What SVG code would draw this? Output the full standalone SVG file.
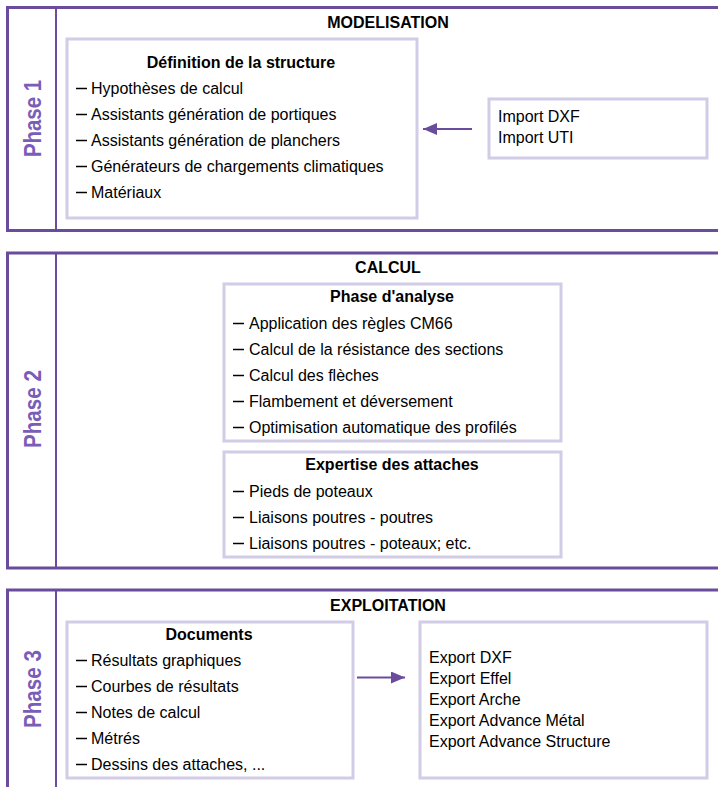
<svg xmlns="http://www.w3.org/2000/svg" width="718" height="787" viewBox="0 0 718 787">
<style>
.frame{fill:none;stroke:#6a4c9c;stroke-width:3}
.div{fill:none;stroke:#6a4c9c;stroke-width:2}
.box{fill:#fff;stroke:#d2cce6;stroke-width:3}
.ph{font-family:"Liberation Sans",Arial,sans-serif;font-size:24px;font-weight:bold;fill:#7a5cb9;text-anchor:middle}
.hd{font-family:"Liberation Sans",Arial,sans-serif;font-size:16px;font-weight:bold;fill:#000;text-anchor:middle}
.t{font-family:"Liberation Sans",Arial,sans-serif;font-size:16px;fill:#000}
.dash{stroke:#000;stroke-width:1.5}
.conn{stroke:#6a4c9c;stroke-width:2;fill:none}
</style>
<defs>
<marker id="ah" markerWidth="14" markerHeight="12" refX="14" refY="6" orient="auto" markerUnits="userSpaceOnUse">
<path d="M0,0 L14,6 L0,12 Z" fill="#6a4c9c"/>
</marker>
</defs>
<rect width="718" height="787" fill="#fff"/>

<g id="phase1">
<path class="frame" d="M720,7.5 H7.5 V230.5 H720"/>
<line class="div" x1="56" y1="7.5" x2="56" y2="230.5"/>
<text class="ph" transform="translate(41,118.5) rotate(-90)" textLength="77" lengthAdjust="spacingAndGlyphs">Phase 1</text>
<text class="hd" x="388" y="28">MODELISATION</text>
</g>
<g id="def-structure">
<rect class="box" x="67" y="39" width="350" height="179"/>
<text class="hd" x="241" y="68">Définition de la structure</text>
<line class="dash" x1="76" y1="88.5" x2="87" y2="88.5"/><text class="t" x="91" y="94">Hypothèses de calcul</text>
<line class="dash" x1="76" y1="114.5" x2="87" y2="114.5"/><text class="t" x="91" y="120">Assistants génération de portiques</text>
<line class="dash" x1="76" y1="140.5" x2="87" y2="140.5"/><text class="t" x="91" y="146">Assistants génération de planchers</text>
<line class="dash" x1="76" y1="166.5" x2="87" y2="166.5"/><text class="t" x="91" y="172">Générateurs de chargements climatiques</text>
<line class="dash" x1="76" y1="192.5" x2="87" y2="192.5"/><text class="t" x="91" y="198">Matériaux</text>
</g>
<g id="import">
<rect class="box" x="489" y="99" width="218" height="59"/>
<text class="t" x="498" y="122">Import DXF</text>
<text class="t" x="498" y="143">Import UTI</text>
</g>

<g id="phase2">
<path class="frame" d="M720,253 H7.5 V568 H720"/>
<line class="div" x1="56" y1="253" x2="56" y2="568"/>
<text class="ph" transform="translate(41,409) rotate(-90)" textLength="78" lengthAdjust="spacingAndGlyphs">Phase 2</text>
<text class="hd" x="388" y="273">CALCUL</text>
</g>
<g id="analyse">
<rect class="box" x="224" y="284" width="337" height="157"/>
<text class="hd" x="392" y="302">Phase d'analyse</text>
<line class="dash" x1="233" y1="323.5" x2="244" y2="323.5"/><text class="t" x="249" y="329">Application des règles CM66</text>
<line class="dash" x1="233" y1="349.5" x2="244" y2="349.5"/><text class="t" x="249" y="355">Calcul de la résistance des sections</text>
<line class="dash" x1="233" y1="375.5" x2="244" y2="375.5"/><text class="t" x="249" y="381">Calcul des flèches</text>
<line class="dash" x1="233" y1="401.5" x2="244" y2="401.5"/><text class="t" x="249" y="407">Flambement et déversement</text>
<line class="dash" x1="233" y1="427.5" x2="244" y2="427.5"/><text class="t" x="249" y="433">Optimisation automatique des profilés</text>
</g>
<g id="attaches">
<rect class="box" x="224" y="452" width="337" height="105"/>
<text class="hd" x="392" y="470">Expertise des attaches</text>
<line class="dash" x1="233" y1="491.5" x2="244" y2="491.5"/><text class="t" x="249" y="497">Pieds de poteaux</text>
<line class="dash" x1="233" y1="517.5" x2="244" y2="517.5"/><text class="t" x="249" y="523">Liaisons poutres - poutres</text>
<line class="dash" x1="233" y1="543.5" x2="244" y2="543.5"/><text class="t" x="249" y="549">Liaisons poutres - poteaux; etc.</text>
</g>

<g id="phase3">
<path class="frame" d="M720,590 H7.5 V790"/>
<line class="div" x1="56" y1="590" x2="56" y2="790"/>
<text class="ph" transform="translate(41,689) rotate(-90)" textLength="78" lengthAdjust="spacingAndGlyphs">Phase 3</text>
<text class="hd" x="388" y="611">EXPLOITATION</text>
</g>
<g id="documents">
<rect class="box" x="67" y="622" width="286" height="156"/>
<text class="hd" x="209" y="640">Documents</text>
<line class="dash" x1="76" y1="660.5" x2="87" y2="660.5"/><text class="t" x="91" y="666">Résultats graphiques</text>
<line class="dash" x1="76" y1="686.5" x2="87" y2="686.5"/><text class="t" x="91" y="692">Courbes de résultats</text>
<line class="dash" x1="76" y1="712.5" x2="87" y2="712.5"/><text class="t" x="91" y="718">Notes de calcul</text>
<line class="dash" x1="76" y1="738.5" x2="87" y2="738.5"/><text class="t" x="91" y="744">Métrés</text>
<line class="dash" x1="76" y1="764.5" x2="87" y2="764.5"/><text class="t" x="91" y="770">Dessins des attaches, ...</text>
</g>
<g id="export">
<rect class="box" x="420" y="622" width="287" height="156"/>
<text class="t" x="429" y="663">Export DXF</text>
<text class="t" x="429" y="684">Export Effel</text>
<text class="t" x="429" y="705">Export Arche</text>
<text class="t" x="429" y="726">Export Advance Métal</text>
<text class="t" x="429" y="747">Export Advance Structure</text>
</g>

<g id="connectors">
<line class="conn" x1="472" y1="129" x2="423" y2="129" marker-end="url(#ah)"/>
<line class="conn" x1="357" y1="677.5" x2="405" y2="677.5" marker-end="url(#ah)"/>
</g>
</svg>
